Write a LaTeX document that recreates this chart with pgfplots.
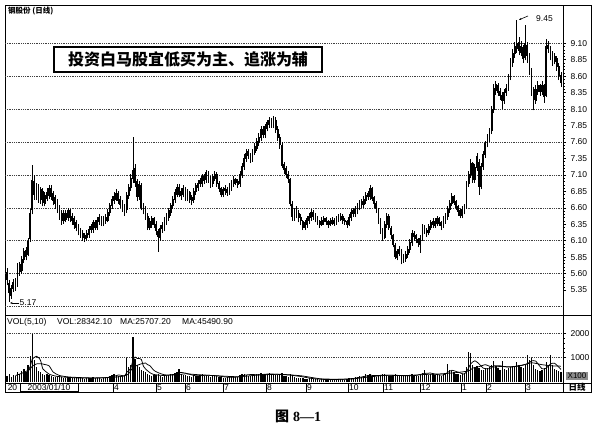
\documentclass[border=0pt]{standalone}
\usepackage{fontspec}
\setmainfont{Liberation Sans}
\newfontfamily\cjk{Noto Sans CJK SC}
\newfontfamily\serif{Liberation Serif}
\usepackage{pgfplots}
\pgfplotsset{compat=1.18}
\usepackage{pgfplotstable}
\usetikzlibrary{arrows.meta}

\pgfplotstableread{
i o h l c v
0 5.62 5.68 5.42 5.50 250
1 5.46 5.50 5.17 5.30 300
2 5.26 5.42 5.22 5.38 200
3 5.36 5.52 5.32 5.47 260
4 5.50 5.54 5.34 5.40 220
5 5.44 5.76 5.40 5.70 400
6 5.74 5.78 5.56 5.62 300
7 5.64 5.86 5.60 5.82 450
8 5.80 5.99 5.76 5.94 520
9 5.96 6.00 5.80 5.86 400
10 5.88 6.14 5.86 6.10 700
11 6.12 6.58 6.08 6.52 1050
12 6.56 7.25 6.50 7.02 2000
13 7.00 7.10 6.72 6.80 900
14 6.76 6.98 6.72 6.92 600
15 6.92 6.96 6.68 6.74 450
16 6.72 6.92 6.66 6.88 380
17 6.86 6.90 6.62 6.68 320
18 6.66 6.84 6.62 6.80 280
19 6.74 6.90 6.70 6.84 300
20 6.78 6.94 6.74 6.90 260
21 6.90 6.94 6.72 6.76 220
22 6.82 6.86 6.64 6.70 200
23 6.76 6.80 6.58 6.66 180
24 6.70 6.74 6.52 6.56 200
25 6.60 6.64 6.42 6.48 220
26 6.52 6.56 6.34 6.40 180
27 6.40 6.56 6.36 6.52 160
28 6.52 6.56 6.38 6.42 150
29 6.44 6.60 6.40 6.56 170
30 6.56 6.58 6.38 6.44 160
31 6.48 6.52 6.34 6.40 140
32 6.44 6.48 6.28 6.34 150
33 6.38 6.42 6.24 6.30 130
34 6.32 6.36 6.18 6.22 140
35 6.26 6.30 6.14 6.20 160
36 6.22 6.26 6.10 6.14 130
37 6.12 6.22 6.08 6.18 120
38 6.14 6.26 6.10 6.22 150
39 6.18 6.32 6.14 6.28 160
40 6.32 6.36 6.22 6.26 140
41 6.26 6.42 6.22 6.38 170
42 6.38 6.42 6.26 6.30 130
43 6.30 6.46 6.26 6.42 150
44 6.38 6.50 6.34 6.46 160
45 6.46 6.48 6.32 6.36 120
46 6.36 6.48 6.32 6.44 140
47 6.46 6.50 6.36 6.40 130
48 6.40 6.58 6.38 6.54 180
49 6.52 6.68 6.48 6.64 220
50 6.62 6.78 6.58 6.74 260
51 6.70 6.84 6.66 6.78 300
52 6.72 6.88 6.70 6.82 280
53 6.82 6.86 6.66 6.70 240
54 6.74 6.78 6.60 6.64 200
55 6.68 6.72 6.54 6.58 220
56 6.62 6.66 6.48 6.54 260
57 6.56 6.84 6.52 6.80 1000
58 6.78 6.96 6.74 6.92 600
59 6.90 7.12 6.86 7.06 700
60 7.04 7.67 6.98 7.18 1850
61 7.20 7.26 6.92 6.98 950
62 7.00 7.04 6.70 6.76 700
63 6.76 7.00 6.72 6.96 600
64 6.94 6.98 6.56 6.60 500
65 6.64 6.68 6.50 6.58 420
66 6.60 6.62 6.42 6.48 380
67 6.48 6.52 6.26 6.30 300
68 6.30 6.44 6.26 6.40 260
69 6.34 6.48 6.30 6.44 240
70 6.44 6.46 6.30 6.34 280
71 6.36 6.40 6.18 6.24 260
72 6.24 6.28 5.93 6.16 320
73 6.14 6.34 6.10 6.30 240
74 6.34 6.38 6.22 6.28 200
75 6.28 6.46 6.24 6.42 220
76 6.38 6.52 6.34 6.48 250
77 6.44 6.60 6.40 6.56 280
78 6.52 6.68 6.48 6.64 300
79 6.62 6.78 6.58 6.74 320
80 6.72 6.88 6.68 6.84 350
81 6.80 6.96 6.76 6.92 400
82 6.92 6.96 6.76 6.80 520
83 6.78 6.90 6.72 6.86 300
84 6.80 6.94 6.76 6.90 280
85 6.90 6.92 6.70 6.76 260
86 6.74 6.88 6.70 6.84 240
87 6.84 6.86 6.68 6.72 220
88 6.76 6.80 6.64 6.70 200
89 6.72 6.90 6.68 6.86 260
90 6.84 6.98 6.80 6.94 240
91 6.90 7.02 6.86 6.98 220
92 7.02 7.06 6.92 6.96 260
93 6.96 7.12 6.92 7.08 300
94 7.08 7.12 6.96 7.00 240
95 7.02 7.18 6.98 7.14 280
96 7.14 7.16 6.98 7.02 220
97 7.04 7.08 6.90 6.96 200
98 6.96 7.12 6.92 7.08 240
99 7.04 7.16 7.00 7.12 260
100 7.12 7.14 6.92 6.96 220
101 6.98 7.00 6.84 6.88 200
102 6.90 6.92 6.76 6.80 180
103 6.80 6.92 6.76 6.88 160
104 6.90 6.94 6.80 6.86 150
105 6.88 6.92 6.78 6.82 170
106 6.82 6.98 6.80 6.94 190
107 6.90 7.02 6.86 6.98 200
108 6.96 7.08 6.92 7.04 220
109 7.04 7.06 6.94 6.98 180
110 7.00 7.04 6.90 6.94 170
111 6.96 7.16 6.92 7.12 260
112 7.10 7.28 7.06 7.24 300
113 7.22 7.42 7.18 7.36 320
114 7.34 7.50 7.30 7.44 280
115 7.46 7.50 7.34 7.38 240
116 7.40 7.44 7.28 7.34 220
117 7.34 7.50 7.30 7.46 260
118 7.44 7.58 7.40 7.54 280
119 7.50 7.66 7.46 7.62 300
120 7.58 7.74 7.54 7.68 320
121 7.66 7.84 7.62 7.80 350
122 7.80 7.84 7.66 7.70 280
123 7.70 7.88 7.66 7.84 300
124 7.80 7.94 7.76 7.90 330
125 7.86 7.98 7.82 7.94 360
126 7.94 7.97 7.82 7.86 300
127 7.86 7.99 7.82 7.94 320
128 7.94 7.98 7.74 7.78 280
129 7.80 7.84 7.62 7.66 260
130 7.68 7.72 7.50 7.56 300
131 7.56 7.60 7.20 7.24 350
132 7.26 7.30 7.12 7.18 240
133 7.20 7.24 7.06 7.10 220
134 7.12 7.16 6.98 7.04 200
135 7.04 7.06 6.62 6.66 320
136 6.66 6.70 6.40 6.46 280
137 6.44 6.60 6.40 6.56 200
138 6.58 6.62 6.44 6.50 160
139 6.52 6.56 6.38 6.44 140
140 6.46 6.50 6.34 6.40 130
141 6.40 6.42 6.26 6.30 150
142 6.30 6.42 6.26 6.38 120
143 6.34 6.48 6.30 6.44 110
144 6.40 6.52 6.36 6.48 130
145 6.44 6.58 6.40 6.54 140
146 6.54 6.56 6.42 6.46 110
147 6.50 6.52 6.38 6.44 100
148 6.46 6.48 6.34 6.38 90
149 6.40 6.42 6.30 6.34 80
150 6.34 6.46 6.32 6.42 90
151 6.38 6.48 6.34 6.44 100
152 6.44 6.46 6.34 6.38 80
153 6.40 6.42 6.30 6.34 70
154 6.34 6.44 6.32 6.40 90
155 6.36 6.46 6.34 6.42 80
156 6.42 6.44 6.32 6.36 70
157 6.36 6.48 6.34 6.44 90
158 6.40 6.50 6.38 6.46 100
159 6.42 6.52 6.40 6.48 110
160 6.48 6.50 6.36 6.40 90
161 6.42 6.44 6.34 6.38 80
162 6.40 6.42 6.30 6.34 100
163 6.34 6.50 6.32 6.46 140
164 6.44 6.58 6.40 6.54 160
165 6.56 6.60 6.46 6.50 150
166 6.50 6.62 6.46 6.58 170
167 6.54 6.68 6.50 6.64 200
168 6.60 6.72 6.56 6.68 220
169 6.70 6.74 6.60 6.64 200
170 6.64 6.78 6.60 6.74 240
171 6.70 6.84 6.66 6.80 330
172 6.82 6.86 6.72 6.76 260
173 6.76 6.95 6.72 6.90 300
174 6.90 6.92 6.70 6.74 240
175 6.76 6.78 6.60 6.66 220
176 6.68 6.70 6.52 6.58 200
177 6.58 6.60 6.36 6.40 240
178 6.40 6.44 6.20 6.26 260
179 6.26 6.30 6.10 6.14 300
180 6.14 6.40 6.12 6.36 330
181 6.34 6.52 6.30 6.48 280
182 6.48 6.50 6.26 6.30 240
183 6.30 6.32 6.12 6.18 220
184 6.18 6.20 6.00 6.04 260
185 6.04 6.06 5.82 5.86 300
186 5.84 5.98 5.80 5.94 240
187 5.90 6.02 5.86 5.98 220
188 5.96 5.98 5.74 5.80 280
189 5.78 5.90 5.76 5.86 240
190 5.82 5.94 5.78 5.90 220
191 5.88 6.02 5.84 5.98 260
192 5.96 6.12 5.92 6.08 280
193 6.06 6.26 6.02 6.22 320
194 6.22 6.24 6.10 6.16 260
195 6.18 6.20 6.06 6.12 240
196 6.12 6.14 6.00 6.06 220
197 6.04 6.18 5.92 6.14 300
198 6.14 6.36 6.10 6.32 360
199 6.32 6.34 6.20 6.24 500
200 6.26 6.30 6.16 6.22 300
201 6.22 6.36 6.18 6.32 280
202 6.30 6.42 6.26 6.38 320
203 6.40 6.44 6.30 6.34 300
204 6.32 6.44 6.30 6.40 260
205 6.36 6.48 6.32 6.44 280
206 6.44 6.46 6.32 6.36 260
207 6.38 6.40 6.26 6.32 240
208 6.32 6.48 6.30 6.44 300
209 6.40 6.52 6.36 6.48 340
210 6.46 6.62 6.42 6.58 750
211 6.56 6.72 6.52 6.68 500
212 6.66 6.82 6.62 6.78 450
213 6.78 6.80 6.64 6.68 380
214 6.70 6.72 6.56 6.60 320
215 6.62 6.64 6.48 6.54 300
216 6.56 6.58 6.44 6.48 280
217 6.48 6.62 6.44 6.58 320
218 6.54 6.66 6.50 6.62 360
219 6.62 7.00 6.58 6.96 600
220 6.96 7.16 6.92 7.12 1250
221 7.10 7.34 7.06 7.28 1170
222 7.28 7.30 6.98 7.02 700
223 7.02 7.26 6.98 7.22 600
224 7.20 7.44 7.16 7.38 650
225 7.30 7.34 6.80 6.92 550
226 6.92 7.28 6.88 7.24 500
227 7.22 7.46 7.18 7.42 480
228 7.40 7.62 7.36 7.58 520
229 7.56 7.72 7.52 7.66 560
230 7.64 7.82 7.60 7.76 600
231 7.76 8.14 7.72 8.10 700
232 8.08 8.48 8.04 8.42 875
233 8.38 8.52 8.32 8.48 650
234 8.46 8.50 8.30 8.34 560
235 8.38 8.42 8.24 8.30 500
236 8.32 8.36 8.10 8.22 850
237 8.22 8.40 8.18 8.36 520
238 8.34 8.48 8.30 8.42 480
239 8.42 8.64 8.38 8.60 560
240 8.58 8.88 8.54 8.82 600
241 8.80 9.02 8.74 8.96 650
242 8.94 9.12 8.88 9.06 620
243 9.02 9.45 8.96 9.10 800
244 9.12 9.20 8.92 8.98 700
245 8.96 9.14 8.90 9.06 600
246 9.04 9.08 8.80 8.86 560
247 8.88 9.38 8.84 9.10 700
248 9.08 9.12 8.80 8.90 1125
249 8.92 8.96 8.62 8.68 900
250 8.70 8.72 8.30 8.36 1000
251 8.40 8.44 8.08 8.24 700
252 8.22 8.46 8.18 8.40 520
253 8.36 8.52 8.32 8.46 480
254 8.46 8.48 8.30 8.36 450
255 8.36 8.52 8.32 8.46 500
256 8.46 8.48 8.20 8.28 560
257 8.30 9.16 8.28 9.06 800
258 9.08 9.14 8.96 9.02 650
259 9.02 9.06 8.84 8.90 1125
260 8.94 8.98 8.76 8.84 700
261 8.82 8.96 8.78 8.90 520
262 8.88 8.90 8.68 8.74 480
263 8.76 8.80 8.54 8.60 420
264 8.62 8.66 8.44 8.50 400
}\data

\tikzset{gridl/.style={black!75, line width=0.6pt, dash pattern=on 0.9pt off 0.9pt}}

\begin{document}
\begin{tikzpicture}
\path (0pt,0pt) rectangle (600pt,433pt);

% ---------- price panel ----------
\begin{axis}[at={(5pt,118pt)}, anchor=south west, scale only axis,
  width=558pt, height=310pt,
  xmin=-1, xmax=265, ymin=4.971, ymax=9.682,
  xtick=\empty,
  ytick={5.35,5.60,5.85,6.10,6.35,6.60,6.85,7.10,7.35,7.60,7.85,8.10,8.35,8.60,8.85,9.10},
  ytick pos=right, yticklabel pos=right, tick align=outside,
  major tick length=3pt, minor y tick num=4, minor tick length=1.5pt,
  tick style={black, line width=0.5pt},
  yticklabel style={font=\fontsize{8.5}{9}\selectfont, xshift=1pt,
    /pgf/number format/fixed, /pgf/number format/fixed zerofill, /pgf/number format/precision=2},
  /pgf/number format/assume math mode=true,
  extra y ticks={5.10,5.60,6.10,6.60,7.10,7.60,8.10,8.60,9.10},
  extra y tick labels={},
  extra y tick style={grid=major, major tick length=0pt},
  grid style={gridl},
  axis line style={black, line width=0.8pt},
  clip=true]
\addplot[forget plot, draw=none, mark=none,
  error bars/.cd, y dir=plus, y explicit, error mark=none,
  error bar style={draw=black, solid, line width=0.8pt}]
  table[x=i, y=l, y error plus expr=\thisrow{h}-\thisrow{l}] {\data};
\addplot[forget plot, draw=none, mark=none,
  error bars/.cd, y dir=both, y explicit, error mark=none,
  error bar style={draw=black, solid, line width=1.8pt}]
  table[x=i, y expr=(\thisrow{o}+\thisrow{c})/2,
        y error expr={max(abs(\thisrow{c}-\thisrow{o})/2,0.012)}] {\data};
\end{axis}

% ---------- volume panel ----------
\begin{axis}[at={(5pt,50pt)}, anchor=south west, scale only axis,
  width=558pt, height=68pt,
  xmin=-1, xmax=265, ymin=-62, ymax=2771,
  xtick=\empty, ytick={1000,2000},
  ytick pos=right, yticklabel pos=right, tick align=outside,
  major tick length=3pt, minor y tick num=4, minor tick length=1.5pt,
  tick style={black, line width=0.5pt},
  yticklabel style={font=\fontsize{8.5}{9}\selectfont, xshift=1pt,
    /pgf/number format/1000 sep={}},
  /pgf/number format/assume math mode=true,
  ymajorgrids, grid style={gridl},
  axis line style={black, line width=0.8pt},
  clip=true]
\addplot[forget plot, ycomb, black, line width=1.25pt, mark=none] table[x=i, y=v] {\data};
\addplot[forget plot, black, line width=0.75pt, smooth, tension=0.4, mark=none] coordinates {
(4,246) (6,310) (8,378) (10,474) (11,624) (12,934) (13,1010) (14,1050) (15,1000) (16,866) (17,530) (18,446) (20,308) (22,250) (24,210) (27,185) (30,166) (35,145) (40,145) (45,150) (50,190) (53,270) (56,240) (57,384) (58,456) (59,556) (60,882) (61,1020) (62,960) (63,960) (64,920) (65,634) (66,524) (68,372) (70,292) (75,250) (80,300) (82,378) (85,350) (90,236) (95,260) (100,236) (105,180) (110,190) (113,260) (116,290) (120,284) (125,313) (130,294) (135,266) (138,230) (140,210) (145,130) (150,92) (155,84) (160,96) (165,126) (170,206) (173,260) (175,250) (180,260) (185,260) (190,240) (195,256) (199,336) (202,350) (205,290) (208,270) (210,378) (212,468) (215,390) (218,316) (220,562) (221,740) (223,864) (225,734) (227,556) (230,532) (232,651) (235,657) (237,616) (240,602) (243,646) (245,674) (248,737) (250,857) (252,849) (255,530) (257,558) (259,727) (261,759) (264,504)};
\addplot[forget plot, black, line width=0.75pt, smooth, tension=0.4, mark=none] coordinates {
(9,330) (12,630) (14,732) (16,745) (18,708) (20,654) (22,391) (25,250) (30,185) (40,150) (50,170) (56,235) (58,330) (60,585) (62,672) (64,738) (66,770) (67,700) (68,666) (70,463) (72,370) (75,280) (80,270) (85,320) (90,290) (100,240) (110,200) (120,270) (130,300) (140,240) (145,170) (150,110) (160,90) (165,110) (170,160) (180,255) (190,250) (200,296) (205,310) (210,340) (215,380) (220,440) (222,560) (225,620) (228,702) (230,633) (232,604) (236,630) (240,610) (245,660) (250,780) (255,700) (260,650) (264,640)};
\end{axis}

% ---------- frame ----------
\draw[black, line width=0.8pt] (563pt,428pt) -- (591pt,428pt) -- (591pt,41pt) -- (5pt,41pt) -- (5pt,50pt);
\draw[black, line width=0.8pt] (563pt,118pt) -- (591pt,118pt);
\draw[black, line width=0.8pt] (563pt,50pt) -- (591pt,50pt);
\draw[black, line width=0.8pt] (563pt,41pt) -- (563pt,50pt);

% ---------- texts in price panel ----------
\node[anchor=west, inner sep=0pt, font=\cjk\bfseries\fontsize{7.5}{8}\selectfont] at (8pt,422pt) {钢股份 (日线)};
\draw[black, line width=1.8pt] (54pt,386pt) rectangle (322pt,361pt);
\node[inner sep=0pt, font=\cjk\bfseries\fontsize{16}{17}\selectfont] at (188pt,373.5pt) {投资白马股宜低买为主、追涨为辅};
\node[anchor=west, inner sep=0pt, font=\fontsize{8.5}{9}\selectfont] at (536pt,414pt) {9.45};
\draw[black, line width=0.6pt, -{Stealth[length=2.5pt,width=2pt]}] (528pt,417pt) .. controls (524pt,416pt) .. (519pt,413pt);
\draw[black, line width=0.6pt, -{Stealth[length=2.5pt,width=2pt]}] (19pt,130pt) -- (10pt,130pt);
\node[anchor=west, inner sep=0pt, font=\fontsize{8.5}{9}\selectfont] at (19.5pt,130pt) {5.17};

% ---------- volume header ----------
\node[anchor=west, inner sep=0pt, font=\fontsize{8.5}{9}\selectfont] at (7pt,111pt) {VOL(5,10)};
\node[anchor=west, inner sep=0pt, font=\fontsize{8.5}{9}\selectfont] at (57pt,111pt) {VOL:28342.10};
\node[anchor=west, inner sep=0pt, font=\fontsize{8.5}{9}\selectfont] at (120pt,111pt) {MA:25707.20};
\node[anchor=west, inner sep=0pt, font=\fontsize{8.5}{9}\selectfont] at (182pt,111pt) {MA:45490.90};
\node[fill=black!45, inner xsep=1.5pt, inner ysep=1pt, font=\fontsize{8}{8}\selectfont] at (577pt,57pt) {X100};

% ---------- date strip ----------
\node[inner sep=0pt, font=\fontsize{8.5}{9}\selectfont] at (12.5pt,45.5pt) {20};
\draw[black, line width=0.7pt] (20pt,41.5pt) rectangle (78pt,49.5pt);
\node[inner sep=0pt, font=\fontsize{8.5}{9}\selectfont] at (49pt,45.5pt) {2003/01/10};
\foreach \xx/\lab in {113/4,156/5,185/6,223/7,266/8,306/9,348/10,383/11,420/12,461/1,486/2,525/3} {
  \draw[black, line width=0.6pt] (\xx pt,41pt) -- (\xx pt,50pt);
  \node[anchor=west, inner sep=0pt, font=\fontsize{8.5}{9}\selectfont] at (\xx pt+1pt,45.5pt) {\lab};
}
\node[inner sep=0pt, font=\cjk\bfseries\fontsize{8.5}{9}\selectfont] at (577pt,45.5pt) {日线};

% ---------- caption ----------
\node[inner sep=0pt] at (298pt,17pt) {{\cjk\bfseries\fontsize{14}{15}\selectfont 图}\hspace{4pt}{\serif\bfseries\fontsize{14}{15}\selectfont 8\textemdash 1}};
\end{tikzpicture}
\end{document}
